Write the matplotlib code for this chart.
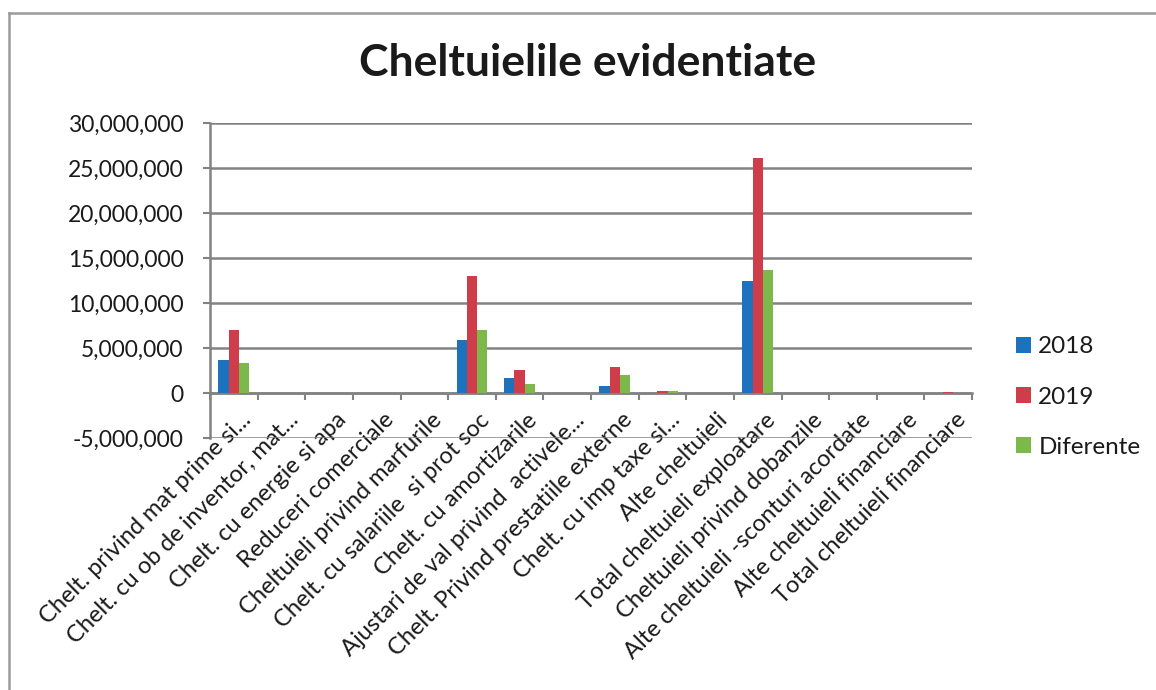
import matplotlib
matplotlib.use("Agg")
import matplotlib.pyplot as plt
from matplotlib.lines import Line2D
from matplotlib.ticker import FuncFormatter, FixedLocator
from matplotlib.transforms import ScaledTranslation
import numpy as np

plt.rcParams['font.family'] = ['Lato', 'DejaVu Sans']

categories = [
    "Chelt. privind mat prime si...",
    "Chelt. cu ob de inventor, mat...",
    "Chelt. cu energie si apa",
    "Reduceri comerciale",
    "Cheltuieli privind marfurile",
    "Chelt. cu salariile  si prot soc",
    "Chelt. cu amortizarile",
    "Ajustari de val privind  activele...",
    "Chelt. Privind prestatiile externe",
    "Chelt. cu imp taxe si...",
    "Alte cheltuieli",
    "Total cheltuieli exploatare",
    "Cheltuieli privind dobanzile",
    "Alte cheltuieli -sconturi acordate",
    "Alte cheltuieli financiare",
    "Total cheltuieli financiare",
]
values_2018 = [3700000, 0, 0, 0, 0, 5900000, 1650000, 0, 800000, 50000, 0, 12400000, 0, 0, 0, 30000]
values_2019 = [7000000, 0, 0, 0, 0, 12950000, 2600000, 0, 2850000, 220000, 0, 26100000, 0, 0, 0, 60000]
values_diff = [3300000, 0, 0, 0, 0, 7050000, 950000, 0, 2050000, 170000, 0, 13700000, 0, 0, 0, 30000]
series_names = ["2018", "2019", "Diferente"]
series_colors = ["#1c72bd", "#d03d4a", "#7cb84a"]
title = "Cheltuielile evidentiate"

W, H = 1156, 690
fig = plt.figure(figsize=(W / 100, H / 100), dpi=100)
fig.patch.set_facecolor("white")

ax = fig.add_axes([210 / W, 1 - 438 / H, (972 - 210) / W, (438 - 123) / H])

x = np.arange(len(categories))
bw = 0.215
handles = []
for i, (vals, name, col) in enumerate(zip([values_2018, values_2019, values_diff], series_names, series_colors)):
    b = ax.bar(x + (i - 1) * bw, vals, width=bw, color=col, label=name, zorder=3)
    handles.append(b)

ax.set_xlim(-0.5, len(categories) - 0.5)
ax.set_ylim(-5000000, 30000000)
ax.set_yticks(np.arange(-5000000, 30000001, 5000000))
ax.yaxis.set_major_formatter(FuncFormatter(lambda v, p: f"{v:,.0f}"))

gridc = "#828282"
ax.yaxis.grid(True, color=gridc, linewidth=1.8, zorder=0)
ax.set_axisbelow(True)
for s in ["top", "right"]:
    ax.spines[s].set_visible(False)
ax.spines["left"].set_color(gridc)
ax.spines["left"].set_linewidth(1.8)
ax.spines["bottom"].set_position(("data", 0))
ax.spines["bottom"].set_color(gridc)
ax.spines["bottom"].set_linewidth(1.8)

ax.tick_params(axis="y", which="major", length=5, width=1.5, color=gridc, pad=14,
               labelsize=16.5, labelcolor="#1a1a1a")
ax.set_xticks(x)
ax.set_xticklabels(categories, rotation=45, ha="right", va="center", rotation_mode="anchor")
ax.xaxis.set_minor_locator(FixedLocator(np.arange(-0.5, len(categories), 1.0)))
ax.tick_params(axis="x", which="major", length=0, pad=17, labelsize=17, labelcolor="#1a1a1a")
ax.tick_params(axis="x", which="minor", length=5, width=1.5, color=gridc, direction="out")
shift = ScaledTranslation(14 / 100, 0, fig.dpi_scale_trans)
for lab in ax.get_xticklabels():
    lab.set_transform(lab.get_transform() + shift)

fig.text(588 / W, 1 - 63 / H, title, ha="center", va="center", fontsize=32,
         fontweight="bold", color="#1a1a1a")

fig.legend(handles=handles, labels=series_names, loc="center left",
           bbox_to_anchor=(1016 / W, 1 - 397 / H), frameon=False, fontsize=17.5,
           handlelength=0.62, handleheight=0.62, handletextpad=0.3,
           labelspacing=1.2, borderpad=0, borderaxespad=0, labelcolor="#1a1a1a")

bc = "#9a9a9a"
fig.add_artist(Line2D([9 / W, 9 / W], [0, 1 - 13 / H], transform=fig.transFigure, color=bc, linewidth=1.8))
fig.add_artist(Line2D([9 / W, 1.0], [1 - 13 / H, 1 - 13 / H], transform=fig.transFigure, color=bc, linewidth=1.8))

fig.savefig("out.png", dpi=100, facecolor="white")
